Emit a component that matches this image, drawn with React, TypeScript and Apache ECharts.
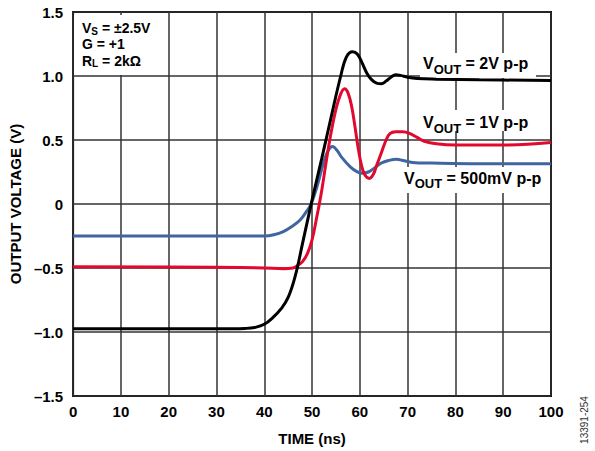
import React, { useEffect, useRef } from "react";
import * as echarts from "echarts";

// time (ns), voltage (V)
const blackData: [number, number][] = [
  [0, -0.975], [30, -0.975], [36, -0.972], [38, -0.965], [40, -0.94], [42, -0.88],
  [43.5, -0.82], [45, -0.73], [46.5, -0.56], [48, -0.31], [50, 0.03], [52, 0.35],
  [54, 0.68], [56, 1.0], [57.2, 1.15], [58.5, 1.19], [59.5, 1.17], [60.5, 1.1],
  [61.5, 1.02], [62.5, 0.97], [63.5, 0.945], [64.5, 0.94], [65.5, 0.96], [66.5, 0.99],
  [67.5, 1.01], [68.5, 1.005], [70, 0.99], [72, 0.98], [76, 0.975], [85, 0.97], [100, 0.965],
];
const redData: [number, number][] = [
  [0, -0.49], [30, -0.495], [40, -0.5], [44, -0.505], [46, -0.5], [47, -0.48],
  [48, -0.45], [49, -0.39], [50, -0.28], [51, -0.1], [52, 0.1], [53, 0.34],
  [54, 0.56], [55, 0.74], [56, 0.86], [56.8, 0.9], [57.5, 0.87], [58.3, 0.76],
  [59, 0.6], [59.6, 0.45], [60.3, 0.31], [61, 0.23], [62, 0.2], [62.8, 0.23],
  [63.5, 0.3], [64.5, 0.4], [65.5, 0.5], [66.3, 0.55], [67.5, 0.565], [69, 0.565],
  [70.5, 0.55], [72, 0.52], [73.5, 0.49], [76, 0.47], [80, 0.46], [90, 0.46], [100, 0.48],
];
const blueData: [number, number][] = [
  [0, -0.25], [40, -0.25], [42, -0.24], [44, -0.215], [46, -0.17], [47.5, -0.125],
  [48.8, -0.06], [49.8, 0.0], [51, 0.13], [52.4, 0.32], [53.4, 0.42], [54.3, 0.45],
  [55.2, 0.42], [56.3, 0.36], [58, 0.29], [59.3, 0.255], [60.5, 0.24], [61.8, 0.25],
  [63, 0.28], [64.5, 0.32], [66, 0.34], [67.7, 0.35], [69, 0.34], [71, 0.325],
  [75, 0.32], [85, 0.315], [100, 0.315],
];

const xAxisTitle = "TIME (ns)";
const yAxisTitle = "OUTPUT VOLTAGE (V)";
const figureId = "13391-254";

const FONT = "'Liberation Sans', Arial, Helvetica, sans-serif";

let measureCtx: CanvasRenderingContext2D | null = null;
function textWidth(text: string, size: number): number {
  if (!measureCtx) measureCtx = document.createElement("canvas").getContext("2d");
  measureCtx!.font = `bold ${size}px ${FONT}`;
  return measureCtx!.measureText(text).width;
}

// Builds a "main + subscript + rest" label from baseline positions
function subLabel(x: number, baseline: number, head: string, sub: string, rest: string,
  mainSize: number, subSize: number, subDrop: number) {
  const mainCenter = baseline - 0.3465 * mainSize;
  const subCenter = baseline + subDrop - 0.3465 * subSize;
  const w1 = head ? textWidth(head, mainSize) : 0;
  const w2 = sub ? textWidth(sub, subSize) : 0;
  const mk = (t: string, px: number, py: number, size: number) => ({
    type: "text", z: 5, x: px, y: py,
    style: { text: t, fontSize: size, fontWeight: "bold", fontFamily: FONT, fill: "#000", align: "left", verticalAlign: "middle" },
  });
  const out: any[] = [];
  if (head) out.push(mk(head, x, mainCenter, mainSize));
  if (sub) out.push(mk(sub, x + w1, subCenter, subSize));
  if (rest) out.push(mk(rest, x + w1 + w2, mainCenter, mainSize));
  return out;
}

export default function App() {
  const ref = useRef<HTMLDivElement>(null);
  useEffect(() => {
    document.body.style.margin = "0";
    const chart = echarts.init(ref.current!, null, { renderer: "svg" });
    const boldLabel = { fontSize: 15, fontWeight: "bold", fontFamily: FONT, color: "#000" };
    chart.setOption({
      animation: false,
      backgroundColor: "#fff",
      grid: { left: 73, right: 44, top: 12, bottom: 54, show: true, borderColor: "#000", borderWidth: 2, backgroundColor: "transparent" },
      xAxis: {
        type: "value", min: 0, max: 100, interval: 10,
        name: xAxisTitle, nameLocation: "middle", nameGap: 35,
        nameTextStyle: boldLabel,
        axisLine: { show: false }, axisTick: { show: false },
        axisLabel: { ...boldLabel, margin: 8 },
        splitLine: { show: true, lineStyle: { color: "#333", width: 1.5 } },
      },
      yAxis: {
        type: "value", min: -1.5, max: 1.5, interval: 0.5,
        name: yAxisTitle, nameLocation: "middle", nameGap: 47,
        nameTextStyle: boldLabel,
        axisLine: { show: false }, axisTick: { show: false },
        axisLabel: {
          ...boldLabel, margin: 10,
          formatter: (v: number) => (v === 0 ? "0" : v.toFixed(1).replace("-", "\u2013")),
        },
        splitLine: { show: true, lineStyle: { color: "#333", width: 1.5 } },
      },
      series: [
        { type: "line", data: blueData, showSymbol: false, smooth: 0.4, lineStyle: { color: "#3f66a1", width: 3 } },
        { type: "line", data: redData, showSymbol: false, smooth: 0.4, lineStyle: { color: "#e2092f", width: 3 } },
        { type: "line", data: blackData, showSymbol: false, smooth: 0.4, lineStyle: { color: "#000", width: 3 } },
      ],
      graphic: [
        { type: "rect", z: 1, shape: { x: 74, y: 15, width: 92, height: 60 }, style: { fill: "#fff" } },
        ...subLabel(82, 33, "V", "S", " = ±2.5V", 14, 10, 1.5),
        ...subLabel(82, 49, "G = +1", "", "", 14, 10, 0),
        ...subLabel(82, 65.5, "R", "L", " = 2kΩ", 14, 10, 1.3),

        { type: "rect", z: 1, shape: { x: 420, y: 53, width: 116, height: 25 }, style: { fill: "#fff" } },
        ...subLabel(423, 69.3, "V", "OUT", " = 2V p-p", 16, 13, 4.5),

        { type: "rect", z: 1, shape: { x: 420, y: 110, width: 112, height: 21 }, style: { fill: "#fff" } },
        ...subLabel(423, 128.3, "V", "OUT", " = 1V p-p", 16, 13, 4.5),

        { type: "rect", z: 1, shape: { x: 400, y: 167, width: 145, height: 26 }, style: { fill: "#fff" } },
        ...subLabel(404, 184, "V", "OUT", " = 500mV p-p", 16, 13, 4.5),

        {
          type: "text", z: 5, x: 584, y: 420, rotation: Math.PI / 2,
          style: { text: figureId, fontSize: 10, fontFamily: FONT, fill: "#333", align: "center", verticalAlign: "middle" },
        },
      ],
    });
    return () => chart.dispose();
  }, []);
  return <div ref={ref} style={{ width: 595, height: 451 }} />;
}
